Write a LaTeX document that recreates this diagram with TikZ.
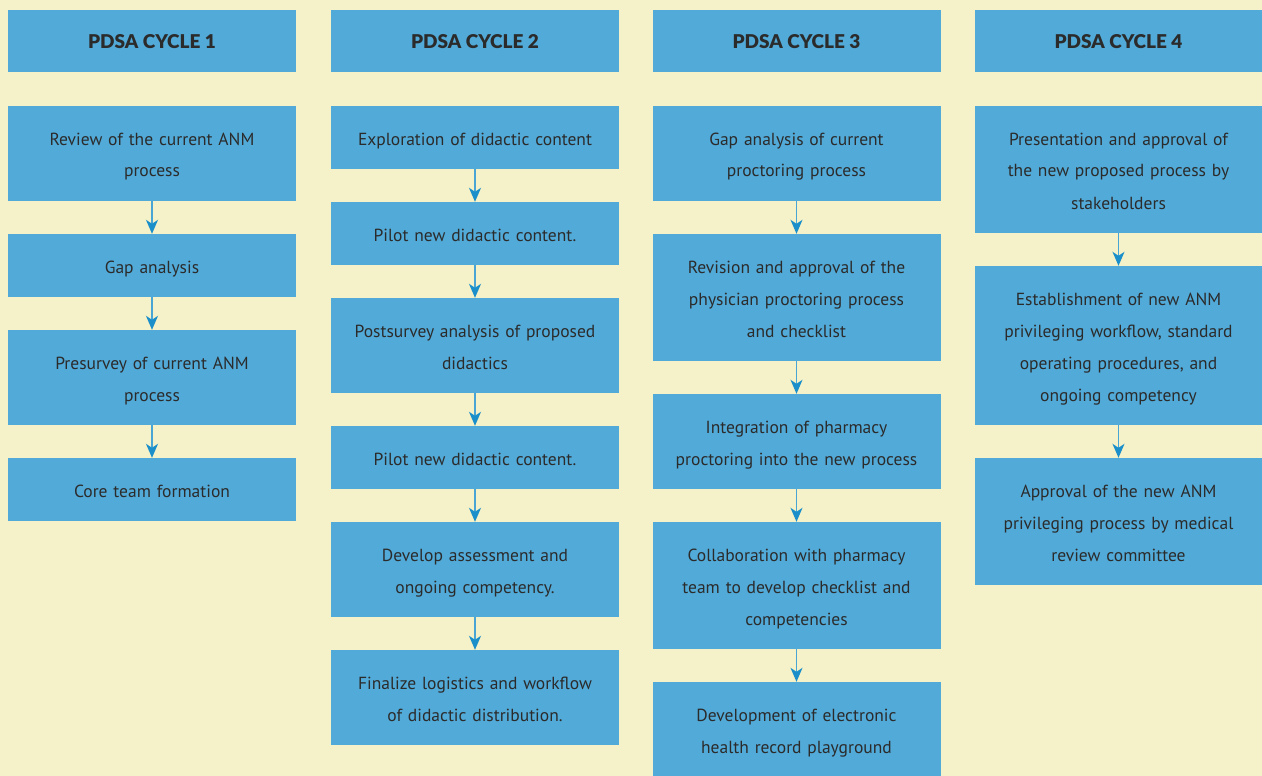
\documentclass[tikz,border=0pt]{standalone}
\usepackage{fontspec}
\setmainfont{PT Sans}
\newfontfamily\hdrfont{Lato Black}
\usetikzlibrary{arrows.meta}
\definecolor{bgc}{HTML}{F5F1C8}
\definecolor{boxc}{HTML}{52AAD8}
\definecolor{arrc}{HTML}{1A8FC9}
\definecolor{txtc}{HTML}{2B2B2B}
\tikzset{
  x=1pt,y=-1pt,
  box/.style={fill=boxc, inner sep=0pt, minimum width=288pt, text width=276pt, align=center, text=txtc,
    font=\fontsize{17.5}{32}\selectfont,
    execute at begin node={\rule{0pt}{21pt}}, execute at end node={\rule[-6pt]{0pt}{6pt}}},
  hdr/.style={fill=boxc, inner sep=0pt, minimum width=288pt, minimum height=62pt, align=center,
    font=\hdrfont\fontsize{19}{22}\selectfont, text=txtc,
    execute at begin node={\rule{0pt}{15pt}}},
  flow/.style={draw=arrc!80!white, line width=1.4pt, -{Stealth[length=14pt,width=12pt,inset=4pt,color=arrc]}, shorten >=0pt}
}
\begin{document}
\begin{tikzpicture}
\fill[bgc] (0,0) rectangle (1262,776);
\useasboundingbox (0,0) rectangle (1262,776);
% headers
\node[hdr] (h1) at (152,41.5) {PDSA CYCLE 1};
\node[hdr] (h2) at (475,41) {PDSA CYCLE 2};
\node[hdr] (h3) at (796.5,41) {PDSA CYCLE 3};
\node[hdr] (h4) at (1118.5,41) {PDSA CYCLE 4};
% column 1
\node[box, minimum height=95pt] (a1) at (152,153.5) {Review of the current ANM\\process};
\node[box, minimum height=63pt] (a2) at (152,265.5) {Gap analysis};
\node[box, minimum height=95pt] (a3) at (152,377.5) {Presurvey of current ANM\\process};
\node[box, minimum height=63pt] (a4) at (152,489.5) {Core team formation};
% column 2
\node[box, minimum height=63pt] (b1) at (475,137.5) {Exploration of didactic content};
\node[box, minimum height=63pt] (b2) at (475,233.5) {Pilot new didactic content.};
\node[box, minimum height=95pt] (b3) at (475,345.5) {Postsurvey analysis of proposed\\didactics};
\node[box, minimum height=63pt] (b4) at (475,457.5) {Pilot new didactic content.};
\node[box, minimum height=95pt] (b5) at (475,569.5) {Develop assessment and\\ongoing competency.};
\node[box, minimum height=95pt] (b6) at (475,697.5) {Finalize logistics and workflow\\of didactic distribution.};
% column 3
\node[box, minimum height=95pt] (c1) at (796.5,153.5) {Gap analysis of current\\proctoring process};
\node[box, minimum height=127pt] (c2) at (796.5,297.5) {Revision and approval of the\\physician proctoring process\\and checklist};
\node[box, minimum height=95pt] (c3) at (796.5,441.5) {Integration of pharmacy\\proctoring into the new process};
\node[box, minimum height=127pt] (c4) at (796.5,585.5) {Collaboration with pharmacy\\team to develop checklist and\\competencies};
\node[box, minimum height=95pt] (c5) at (796.5,729.5) {Development of electronic\\health record playground};
% column 4
\node[box, minimum height=127pt] (d1) at (1118.5,169.5) {Presentation and approval of\\the new proposed process by\\stakeholders};
\node[box, minimum height=159pt] (d2) at (1118.5,345.5) {Establishment of new ANM\\privileging workflow, standard\\operating procedures, and\\ongoing competency};
\node[box, minimum height=127pt] (d3) at (1118.5,521.5) {Approval of the new ANM\\privileging process by medical\\review committee};
% arrows
\foreach \u/\v in {a1/a2,a2/a3,a3/a4,b1/b2,b2/b3,b3/b4,b4/b5,b5/b6,c1/c2,c2/c3,c3/c4,c4/c5,d1/d2,d2/d3}
  \draw[flow] (\u.south) -- (\v.north);
\end{tikzpicture}
\end{document}
